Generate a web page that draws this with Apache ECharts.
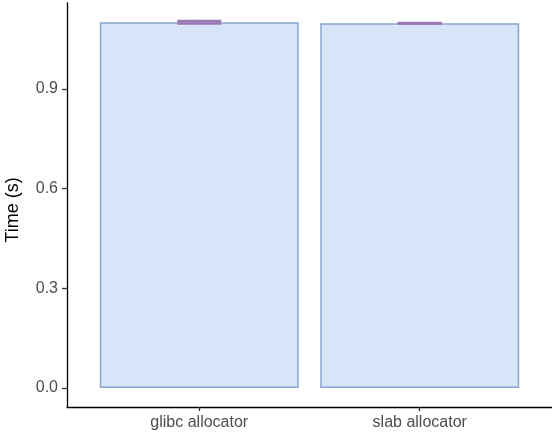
<!DOCTYPE html>
<html><head><meta charset="utf-8">
<script src="https://cdn.jsdelivr.net/npm/echarts@6/dist/echarts.min.js"></script>
<style>html,body{margin:0;padding:0;background:#fff}#c{width:552px;height:434px}</style>
</head><body><div id="c"></div>
<script>
const categories = ['glibc allocator', 'slab allocator'];
const times = [1.100, 1.097];
const errLow = [1.0965, 1.0963];
const errHigh = [1.1035, 1.0977];
const yTicks = [0, 0.3, 0.6, 0.9];

const chart = echarts.init(document.getElementById('c'));
const pos = categories.map((c, i) => i + 1);
chart.setOption({
  animation: false,
  grid: {left: 67, right: 0, top: 3, bottom: 27, outerBoundsMode: 'none', containLabel: false},
  xAxis: {
    type: 'value', min: 0.4, max: 2.6,
    splitLine: {show: false},
    axisLine: {show: true, onZero: false, lineStyle: {color: '#000', width: 1.3}},
    axisTick: {show: true, customValues: pos, length: 4, lineStyle: {color: '#333', width: 1.3}},
    axisLabel: {customValues: pos, formatter: v => categories[Math.round(v) - 1] || '',
      color: '#4d4d4d', fontSize: 16, fontFamily: 'Liberation Sans', margin: 8}
  },
  yAxis: {
    type: 'value', min: -0.057, max: 1.158,
    name: 'Time (s)', nameLocation: 'middle', nameGap: 45,
    nameTextStyle: {color: '#000', fontSize: 18, fontFamily: 'Liberation Sans', padding: [0, 10, 0, 0]},
    splitLine: {show: false},
    axisLine: {show: true, onZero: false, lineStyle: {color: '#000', width: 1.3}},
    axisTick: {show: true, customValues: yTicks, length: 5, lineStyle: {color: '#333', width: 1.3}},
    axisLabel: {customValues: yTicks, formatter: v => v.toFixed(1),
      color: '#4d4d4d', fontSize: 16, fontFamily: 'Liberation Sans', margin: 9}
  },
  series: [{
    type: 'bar',
    data: pos.map((p, i) => [p, times[i]]),
    barWidth: 199,
    itemStyle: {color: '#d8e5f8', borderColor: '#88a6d1', borderWidth: 1.5}
  }, {
    type: 'custom',
    data: pos.map((p, i) => [p, errLow[i], errHigh[i]]),
    renderItem: function (params, api) {
      const x = api.value(0);
      const lo = api.coord([x, api.value(1)]);
      const hi = api.coord([x, api.value(2)]);
      const l = api.coord([x - 0.1, 0])[0];
      const r = api.coord([x + 0.1, 0])[0];
      const st = {stroke: '#9b77b3', lineWidth: 2.5};
      return {type: 'group', children: [
        {type: 'line', shape: {x1: lo[0], y1: lo[1], x2: hi[0], y2: hi[1]}, style: st},
        {type: 'line', shape: {x1: l, y1: lo[1], x2: r, y2: lo[1]}, style: st},
        {type: 'line', shape: {x1: l, y1: hi[1], x2: r, y2: hi[1]}, style: st}
      ]};
    },
    z: 5
  }]
});
</script></body></html>
